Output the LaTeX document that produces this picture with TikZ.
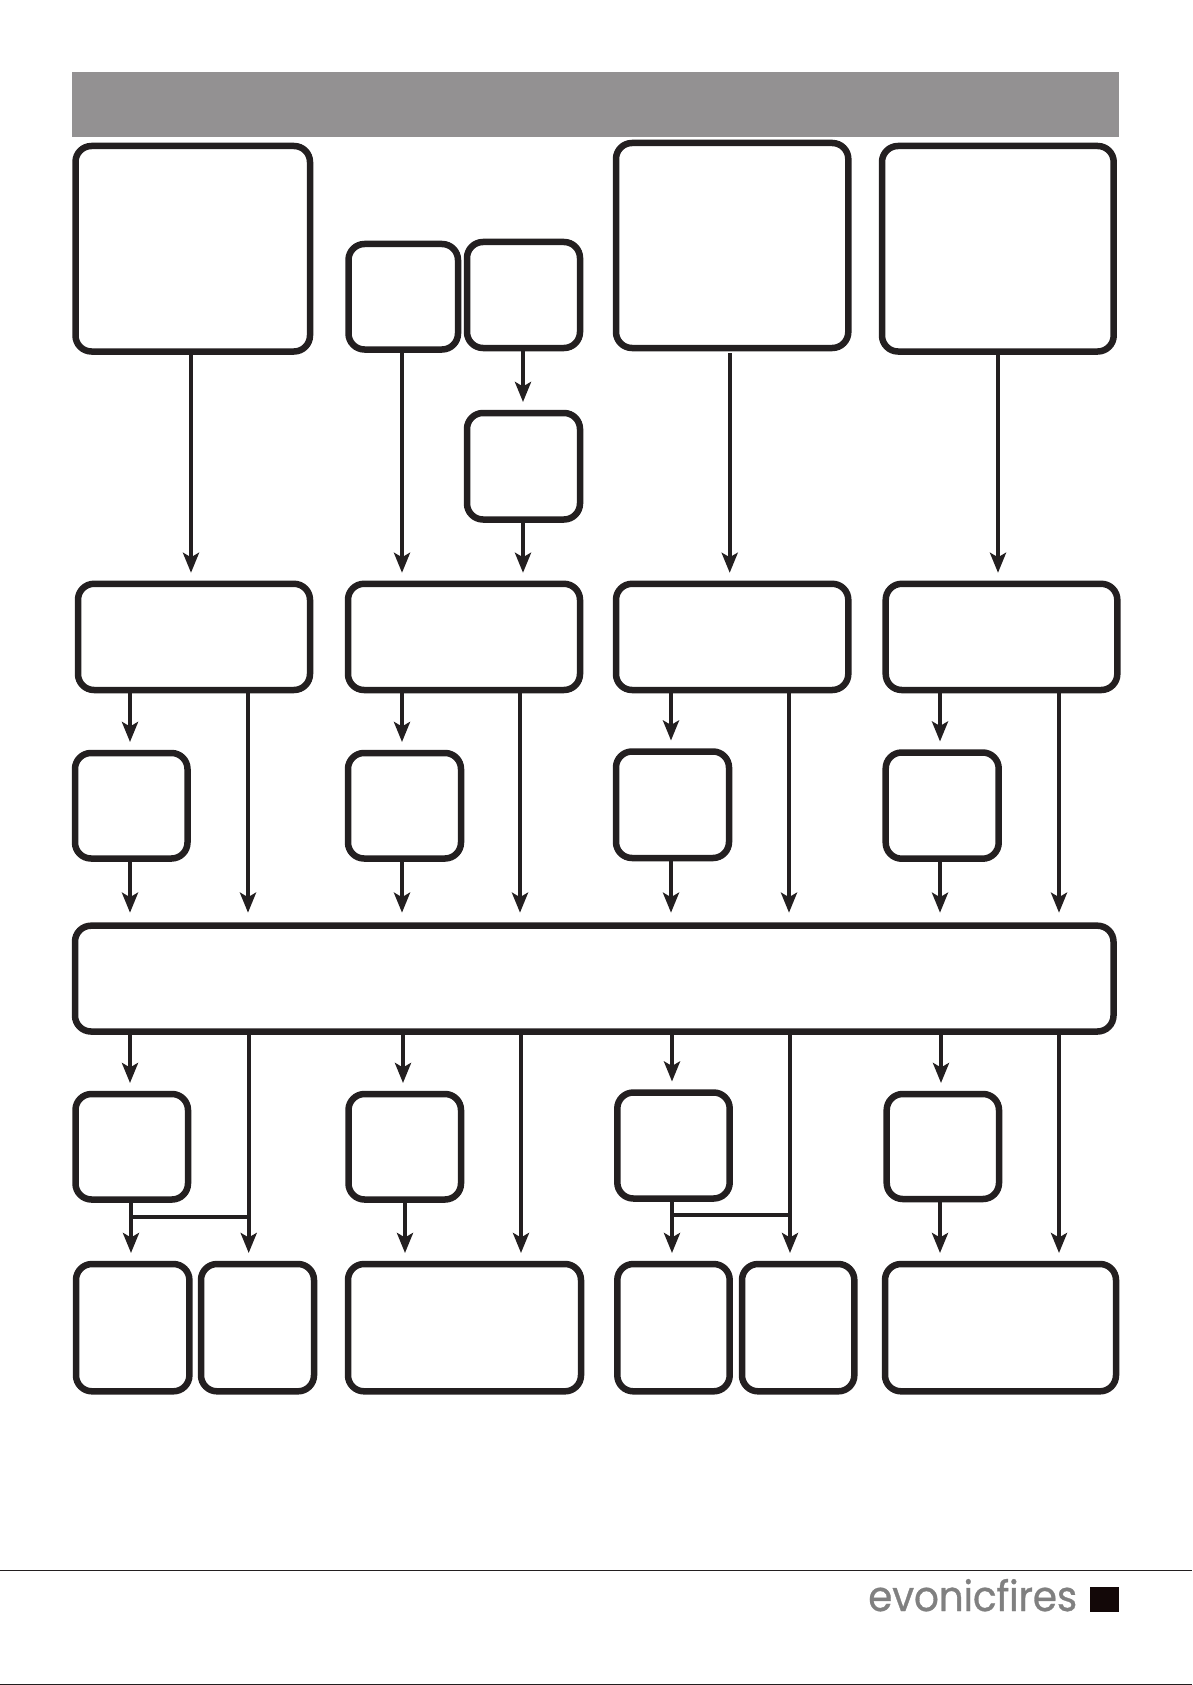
\documentclass[tikz,border=0pt]{standalone}
\usepackage{fontspec}
\usetikzlibrary{arrows.meta}
\newfontfamily\logofont[FakeBold=0.7,FakeStretch=0.93,LetterSpace=-0.5]{Poppins}
\definecolor{ink}{HTML}{231F20}
\definecolor{bandgray}{HTML}{939192}
\definecolor{logogray}{HTML}{808080}
\definecolor{tabblack}{HTML}{130808}
\tikzset{
	box/.style={draw=ink, line width=6.5pt, rounded corners=16pt, inner sep=0pt, outer sep=0pt},
	arr/.style={draw=ink, line width=4.2pt, -{Stealth[length=20pt,width=16pt,inset=4.5pt]}, shorten >=11pt},
	tie/.style={draw=ink, line width=4.2pt}
}
\begin{document}
\begin{tikzpicture}[x=1pt,y=-1pt]
	\useasboundingbox (0,0) rectangle (1192,1685);
	% banner
	\node[fill=bandgray, inner sep=0pt, outer sep=0pt, minimum width=1047pt, minimum height=65pt] (band) at (595.5,104.5) {};
	% boxes: name/left/top/right/bottom
	\foreach \name/\xa/\ya/\xb/\yb in {
		src1/75.5/146/310/351.5, src2/348.5/244/458/349.5, src3/467/242/580/348, src3b/467/413/580/519.5,
		src4/616/143/848.3/348, src5/882/146/1113.7/351.5,
		up1/78/583.8/310/690, up2/348/583.8/580/690, up3/616/583.8/848.3/690, up4/885.7/583.8/1117.3/690,
		mid1/75/753/187.5/858.5, mid2/348/753/461/858.5, mid3/616/751.5/729/858, mid4/885.7/752.5/998.7/858.7,
		bar/75/925.7/1113.5/1031.5,
		low1/75.5/1094/188/1199.5, low2/348.5/1094/461/1199.5, low3/617.3/1092.5/729.7/1198.5, low4/886.7/1094/999/1199,
		endA/76/1264/189.4/1391.3, endB/201/1264/314/1391.3, end2/348/1264/581/1391.3,
		endC/617.3/1264/729.7/1391.3, endD/742/1264/854.3/1391.3, end4/885/1264/1116/1391.3}
	{
		\node[box, minimum width={(\xb-\xa)*1pt}, minimum height={(\yb-\ya)*1pt}] (\name) at ({(\xa+\xb)/2},{(\ya+\yb)/2}) {};
	}
	% top part
	\coordinate (t1) at (191,0);
	\coordinate (t2) at (402,0);
	\coordinate (t3) at (523,0);
	\coordinate (t4) at (729.7,0);
	\coordinate (t5) at (998,0);
	\draw[arr] (t1 |- src1.south) -- (t1 |- up1.north);
	\draw[arr] (t2 |- src2.south) -- (t2 |- up2.north);
	\draw[arr] (t3 |- src3.south) -- (t3 |- src3b.north);
	\draw[arr] (t3 |- src3b.south) -- (t3 |- up2.north);
	\draw[arr, shorten <=5pt] (t4 |- src4.south) -- (t4 |- up3.north);
	\draw[arr] (t5 |- src5.south) -- (t5 |- up4.north);
	% four columns
	\foreach \col/\xs/\xl/\xd/\xe/\xf in {
		1/130/248/130/248.7/131,
		2/402/520/403/521/405,
		3/671/789/672/790/672,
		4/940/1059/941/1059/940}
	{
		\coordinate (s\col) at (\xs,0);
		\coordinate (l\col) at (\xl,0);
		\coordinate (d\col) at (\xd,0);
		\coordinate (e\col) at (\xe,0);
		\coordinate (f\col) at (\xf,0);
		\draw[arr] (s\col |- up\col.south) -- (s\col |- mid\col.north);
		\draw[arr, shorten >=13pt] (s\col |- mid\col.south) -- (s\col |- bar.north);
		\draw[arr, shorten >=13pt] (l\col |- up\col.south) -- (l\col |- bar.north);
		\draw[arr] (d\col |- bar.south) -- (d\col |- low\col.north);
		\draw[arr] (e\col |- bar.south) -- (e\col |- endA.north);
		\draw[arr] (f\col |- low\col.south) -- (f\col |- endA.north);
	}
	\coordinate (j1) at (0,1217);
	\coordinate (j3) at (0,1215);
	\draw[tie] (f1 |- j1) -- (e1 |- j1);
	\draw[tie] (f3 |- j3) -- (e3 |- j3);
	% footer
	\coordinate (rl) at (0,1570);
	\coordinate (rr) at (1192,1570);
	\coordinate (bl) at (0,1684.5);
	\coordinate (br) at (1192,1684.5);
	\draw[ink, line width=1pt] (rl) -- (rr);
	\draw[ink, line width=1pt] (bl) -- (br);
	\node[anchor=base west, inner sep=0pt, text=logogray, font=\logofont\fontsize{42}{42}\selectfont] (logo) at (868,1611) {evonicfires};
	\node[fill=tabblack, inner sep=0pt, outer sep=0pt, minimum width=29pt, minimum height=25pt] (tab) at (1104.5,1599.5) {};
\end{tikzpicture}
\end{document}
